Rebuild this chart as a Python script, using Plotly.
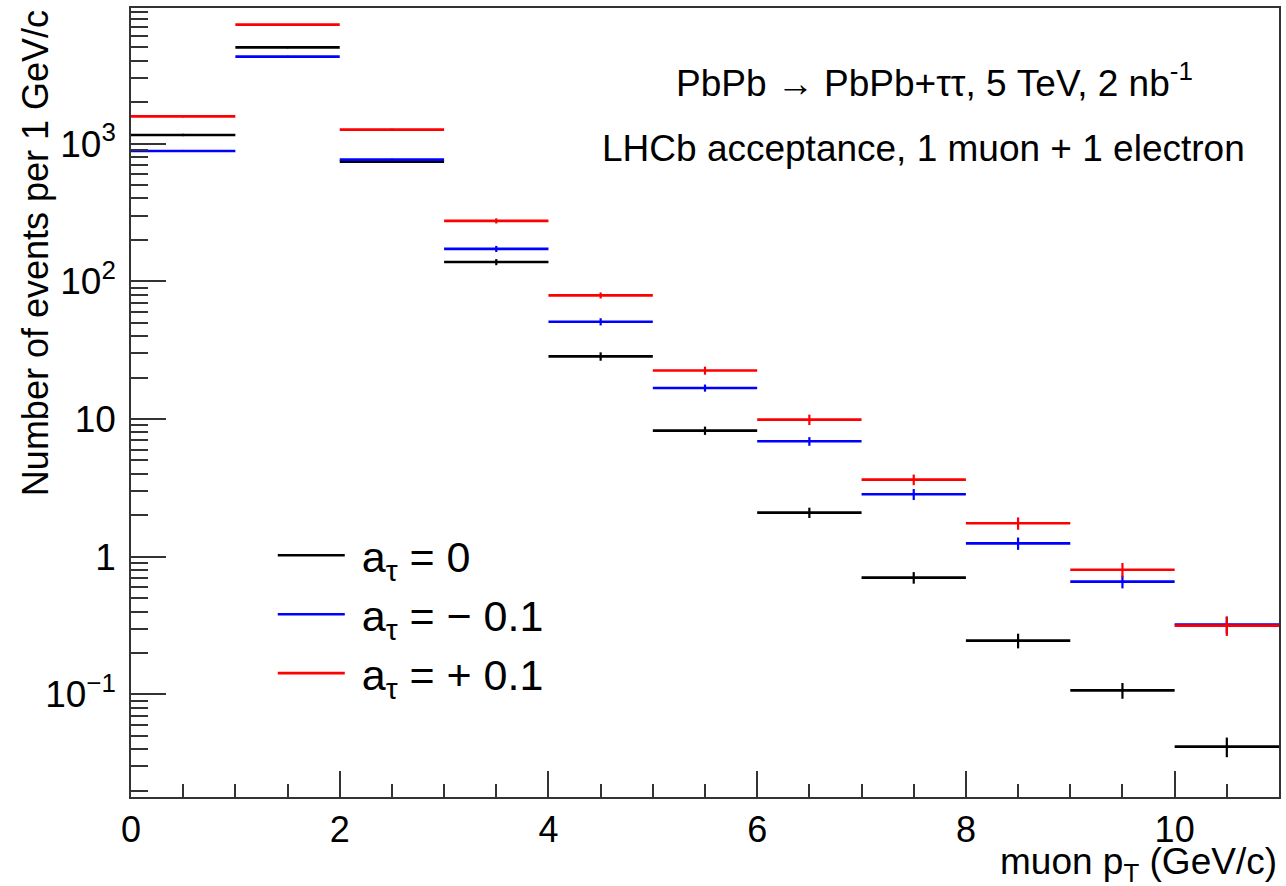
import plotly.graph_objects as go

# ---- data ----
bin_edges = [0, 1, 2, 3, 4, 5, 6, 7, 8, 9, 10, 11]

black_vals = [1156, 5000, 740, 138, 28.5, 8.24, 2.09, 0.705, 0.246, 0.107, 0.0418]
black_errs = [23, 85, 13, 7.0, 2.0, 0.57, 0.18, 0.068, 0.030, 0.014, 0.0068]

blue_vals = [885, 4285, 765, 172, 50.9, 16.8, 6.89, 2.84, 1.25, 0.659, 0.322]
blue_errs = [15, 56, 13, 8.8, 3.05, 1.0, 0.50, 0.26, 0.128, 0.070, 0.046]

red_vals = [1578, 7310, 1264, 275, 79.0, 22.5, 9.9, 3.63, 1.75, 0.805, 0.316]
red_errs = [27, 95, 21, 11.8, 4.0, 1.5, 0.86, 0.32, 0.18, 0.095, 0.050]

series_names = ["&nbsp;a<sub>τ</sub> = 0", "&nbsp;a<sub>τ</sub> = − 0.1", "&nbsp;a<sub>τ</sub> = + 0.1"]
series_colors = ["#000000", "#0000ff", "#ff0000"]

y_tick_vals = [0.1, 1, 10, 100, 1000]
y_tick_text = ["10<sup>−1</sup>", "1", "10", "10<sup>2</sup>", "10<sup>3</sup>"]

centers = [(a + b) / 2 for a, b in zip(bin_edges[:-1], bin_edges[1:])]
half_w = [(b - a) / 2 for a, b in zip(bin_edges[:-1], bin_edges[1:])]

FONT = "Liberation Sans, Arial, Helvetica, sans-serif"

fig = go.Figure()
for vals, errs, col in [(black_vals, black_errs, series_colors[0]),
                        (blue_vals, blue_errs, series_colors[1]),
                        (red_vals, red_errs, series_colors[2])]:
    fig.add_trace(go.Scatter(
        x=centers, y=vals, mode="markers",
        marker=dict(size=1, color=col),
        error_x=dict(type="data", array=half_w, symmetric=True, width=0, thickness=2.6, color=col),
        error_y=dict(type="data", array=errs, symmetric=True, width=0, thickness=2.2, color=col),
        showlegend=False, hoverinfo="skip"))

# legend entries
for name, col in zip(series_names, series_colors):
    fig.add_trace(go.Scatter(x=[None], y=[None], mode="lines",
                             line=dict(color=col, width=2.6), name=name))

minor_y = []
for d in [0.01, 0.1, 1, 10, 100, 1000]:
    for k in range(2, 10):
        minor_y.append(k * d)

fig.update_layout(
    width=1286, height=886,
    margin=dict(l=131, r=5, t=8, b=89),
    paper_bgcolor="white", plot_bgcolor="white",
    font=dict(family=FONT, size=36, color="black"),
    showlegend=True,
    legend=dict(x=0.1235, y=0.350, xanchor="left", yanchor="top",
                bgcolor="rgba(0,0,0,0)", font=dict(size=43),
                itemwidth=67, traceorder="normal"),
    xaxis=dict(range=[0, 11], showgrid=False, zeroline=False,
               showline=True, linecolor="#333", linewidth=1.5, mirror=True,
               ticks="inside", ticklen=26, tickwidth=1.5, tickcolor="#333",
               tick0=0, dtick=2, tickfont=dict(size=36),
               minor=dict(ticks="inside", ticklen=13, dtick=0.5, tickcolor="#333", tickwidth=1.5)),
    yaxis=dict(type="log", range=[-1.745, 3.985], showgrid=False, zeroline=False,
               showline=True, linecolor="#333", linewidth=1.5, mirror=True,
               ticks="inside", ticklen=35, tickwidth=1.5, tickcolor="#333",
               tickmode="array", tickvals=y_tick_vals, ticktext=y_tick_text,
               tickfont=dict(size=37), ticklabelstandoff=6,
               minor=dict(ticks="inside", ticklen=17, tickmode="array", tickvals=minor_y,
                          tickcolor="#333", tickwidth=1.5)),
)

fig.add_annotation(text="Number of events per 1 GeV/c", xref="paper", yref="paper",
                   x=-0.0835, y=1.0, xanchor="center", yanchor="top", textangle=-90,
                   showarrow=False, font=dict(size=36))
fig.add_annotation(text="muon p<sub>T</sub> (GeV/c)", xref="paper", yref="paper",
                   x=1.0, y=-0.053, xanchor="right", yanchor="top", showarrow=False,
                   font=dict(size=37))
fig.add_annotation(text="PbPb → PbPb+ττ, 5 TeV, 2 nb<sup>-1</sup>", xref="paper", yref="paper",
                   x=0.7, y=0.908, xanchor="center", yanchor="middle", showarrow=False,
                   font=dict(size=37))
fig.add_annotation(text="LHCb acceptance, 1 muon + 1 electron", xref="paper", yref="paper",
                   x=0.69, y=0.822, xanchor="center", yanchor="middle", showarrow=False,
                   font=dict(size=37))

fig.write_html("out.html")
